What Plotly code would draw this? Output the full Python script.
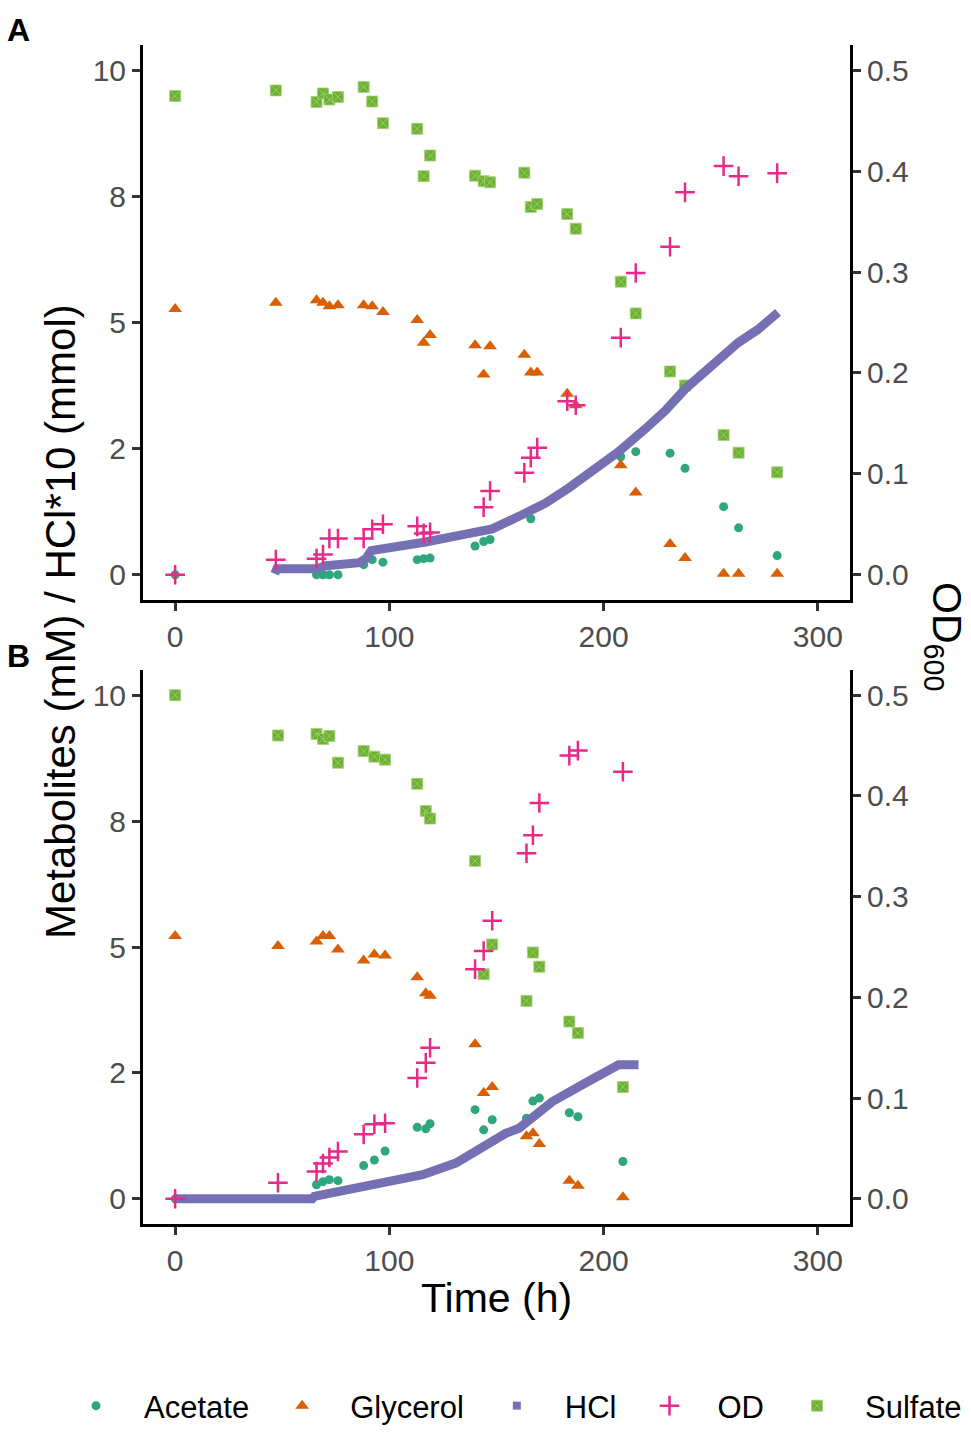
import plotly.graph_objects as go

# ---- panel A ----
time_a = [0, 47, 66, 69, 72, 76, 88, 92, 97, 113, 116, 119, 140, 144, 147,
          163, 166, 169, 183, 187, 208, 215, 231, 238, 256, 263, 281]
sulfate_a = [9.49, 9.60, 9.37, 9.54, 9.42, 9.47, 9.67, 9.38, 8.95, 8.84, 7.90, 8.31, 7.91, 7.80, 7.78,
             7.97, 7.29, 7.35, 7.15, 6.86, 5.81, 5.18, 4.03, 3.75, 2.77, 2.42, 2.03]
glycerol_a = [5.27, 5.39, 5.44, 5.39, 5.32, 5.34, 5.34, 5.32, 5.21, 5.05, 4.60, 4.75, 4.55, 3.97, 4.53,
              4.36, 4.01, 4.01, 3.59, 3.36, 2.17, 1.63, 0.61, 0.33, 0.02, 0.02, 0.02]
acetate_a_time = [0, 66, 69, 72, 76, 88, 92, 97, 113, 116, 119, 140, 144, 147,
                  166, 208, 215, 231, 238, 256, 263, 281]
acetate_a = [0, 0, 0, 0, 0, 0.20, 0.30, 0.25, 0.30, 0.32, 0.33, 0.57, 0.66, 0.70,
             1.11, 2.34, 2.44, 2.41, 2.11, 1.35, 0.93, 0.38]
od_a_time = [0, 47, 66, 69, 72, 76, 88, 92, 97, 113, 116, 119, 144, 147,
             163, 166, 169, 183, 187, 208, 215, 231, 238, 256, 263, 281]
od_a = [0, 0.015, 0.016, 0.020, 0.036, 0.036, 0.036, 0.045, 0.050, 0.048, 0.041, 0.042, 0.067, 0.083,
        0.101, 0.116, 0.126, 0.172, 0.168, 0.235, 0.299, 0.325, 0.379, 0.405, 0.395, 0.398]
hcl_a_time = [46.5, 47.5, 66, 70.5, 86, 89, 91.5, 104.7, 117, 132.6, 141.9, 148, 162, 172.9,
              183.7, 196.1, 207, 219.4, 228.7, 238, 250.4, 262.8, 272, 281.4]
hcl_a = [0.02, 0.12, 0.12, 0.18, 0.24, 0.32, 0.48, 0.55, 0.65, 0.78, 0.86, 0.91, 1.19, 1.42,
         1.72, 2.10, 2.44, 2.89, 3.25, 3.68, 4.14, 4.60, 4.86, 5.20]

# ---- panel B ----
time_b = [0, 48, 66, 69, 72, 76, 88, 93, 98, 113, 117, 119, 140, 144, 148, 164, 167, 170, 184, 188, 209]
sulfate_b = [10.0, 9.20, 9.23, 9.13, 9.19, 8.66, 8.89, 8.78, 8.72, 8.24, 7.70, 7.55, 6.71, 4.46, 5.05,
             3.93, 4.89, 4.61, 3.52, 3.29, 2.22]
glycerol_b = [5.22, 5.02, 5.11, 5.22, 5.22, 4.95, 4.73, 4.85, 4.83, 4.40, 4.08, 4.03, 3.07, 2.10, 2.22,
              1.24, 1.30, 1.09, 0.36, 0.26, 0.03]
acetate_b_time = [0, 66, 69, 72, 76, 88, 93, 98, 113, 117, 119, 140, 144, 148, 164, 167, 170, 184, 188, 209]
acetate_b = [0, 0.28, 0.34, 0.38, 0.36, 0.66, 0.77, 0.95, 1.42, 1.39, 1.49, 1.77, 1.37, 1.57,
             1.60, 1.94, 2.00, 1.71, 1.63, 0.74]
od_b = [0, 0.016, 0.027, 0.035, 0.041, 0.047, 0.064, 0.074, 0.075, 0.120, 0.135, 0.150, 0.228, 0.246,
        0.276, 0.343, 0.361, 0.393, 0.440, 0.445, 0.424]
hcl_b_time = [0, 64, 65, 76.7, 92.2, 107.8, 115.5, 131, 138.8, 145, 150.4, 154.3, 160.5,
              168.2, 176, 191.5, 207, 216.3]
hcl_b = [0, 0, 0.05, 0.15, 0.24, 0.38, 0.48, 0.71, 0.91, 1.10, 1.24, 1.30, 1.40,
         1.67, 1.93, 2.30, 2.66, 2.66]

# axis ticks (ggplot rounded the 2.5 / 7.5 labels)
left_tickvals = [0, 2.5, 5, 7.5, 10]
left_ticktext = ["0", "2", "5", "8", "10"]
od_tickvals = [0, 0.1, 0.2, 0.3, 0.4, 0.5]
time_tickvals = [0, 100, 200, 300]

colors = {"Acetate": "#1B9E77", "Glycerol": "#D95F02", "HCl": "#7570B3",
          "OD": "#E7298A", "Sulfate": "#66A61E"}
FONT = "Liberation Sans, Arial, sans-serif"

fig = go.Figure()


def add_panel(xa, ya, ya2, t_all, ac_t, ac, gl, su, hcl_t, hcl, od_t, od, legend):
    fig.add_trace(go.Scatter(x=ac_t, y=ac, mode="markers", name="Acetate", legendrank=1,
                             marker=dict(symbol="circle", size=9, color="#2FA67E"),
                             xaxis=xa, yaxis=ya, showlegend=legend))
    fig.add_trace(go.Scatter(x=t_all, y=gl, mode="markers", name="Glycerol", legendrank=2,
                             marker=dict(symbol="triangle-up", size=12, color=colors["Glycerol"]),
                             xaxis=xa, yaxis=ya, showlegend=legend))
    fig.add_trace(go.Scatter(x=t_all, y=su, mode="markers", name="Sulfate", legendrank=5,
                             marker=dict(symbol="square-x", size=11, color="#6DB032",
                                         line=dict(color="#A6D27A", width=0.8)),
                             xaxis=xa, yaxis=ya, showlegend=legend))
    fig.add_trace(go.Scatter(x=hcl_t, y=hcl, mode="lines", name="HCl",
                             line=dict(color=colors["HCl"], width=9),
                             xaxis=xa, yaxis=ya, showlegend=False))
    fig.add_trace(go.Scatter(x=od_t, y=od, mode="markers", name="OD", legendrank=4,
                             marker=dict(symbol="cross-thin", size=14, color=colors["OD"],
                                         line=dict(color=colors["OD"], width=2.5)),
                             xaxis=xa, yaxis=ya2, showlegend=legend))


add_panel("x", "y", "y2", time_a, acetate_a_time, acetate_a, glycerol_a, sulfate_a,
          hcl_a_time, hcl_a, od_a_time, od_a, True)
add_panel("x2", "y3", "y4", time_b, acetate_b_time, acetate_b, glycerol_b, sulfate_b,
          hcl_b_time, hcl_b, time_b, od_b, False)

# legend entry for HCl (drawn as a line of squares in the panels)
fig.add_trace(go.Scatter(x=[None], y=[None], mode="markers", name="HCl", legendrank=3,
                         marker=dict(symbol="square", size=8, color=colors["HCl"])))

W, H = 971, 1433
xdom = [143 / W, 850 / W]
dom_a = [1 - 600 / H, 1 - 45 / H]
dom_b = [1 - 1224 / H, 1 - 670 / H]

axis_common = dict(showline=True, linecolor="black", linewidth=3, ticks="outside",
                   ticklen=8, tickwidth=3, tickcolor="#333333", showgrid=False, zeroline=False,
                   tickfont=dict(family=FONT, size=30, color="#4D4D4D"))

x_common = dict(axis_common, range=[-15, 315], tickvals=time_tickvals, domain=xdom)
yl_common = dict(axis_common, range=[-0.5, 10.5], tickvals=left_tickvals, ticktext=left_ticktext)
yr_common = dict(axis_common, range=[-0.025, 0.525], tickvals=od_tickvals, tickformat=".1f",
                 side="right")

fig.update_layout(
    width=W, height=H,
    margin=dict(l=0, r=0, t=0, b=0),
    paper_bgcolor="white", plot_bgcolor="white",
    font=dict(family=FONT, color="black"),
    xaxis=dict(x_common, anchor="y"),
    yaxis=dict(yl_common, domain=dom_a, anchor="x"),
    yaxis2=dict(yr_common, overlaying="y", anchor="x"),
    xaxis2=dict(x_common, anchor="y3"),
    yaxis3=dict(yl_common, domain=dom_b, anchor="x2"),
    yaxis4=dict(yr_common, overlaying="y3", anchor="x2"),
    legend=dict(orientation="h", x=48 / W, xanchor="left", y=0, yanchor="bottom",
                font=dict(family=FONT, size=31, color="black"), itemwidth=86,
                traceorder="normal"),
    showlegend=True,
)

annotations = [
    dict(text="Time (h)", x=496.5 / W, y=1 - 1298 / H, font=dict(size=41)),
    dict(text="Metabolites (mM) / HCl*10 (mmol)", x=60 / W, y=1 - 622 / H,
         textangle=-90, font=dict(size=42)),
    dict(text="OD<sub>600</sub>", x=944 / W, y=1 - 636 / H, textangle=90, font=dict(size=41)),
    dict(text="<b>A</b>", x=18 / W, y=1 - 30 / H, font=dict(size=32)),
    dict(text="<b>B</b>", x=18 / W, y=1 - 656 / H, font=dict(size=32)),
]
for a in annotations:
    fig.add_annotation(xref="paper", yref="paper", showarrow=False,
                       xanchor="center", yanchor="middle", **a)

fig.write_html("out.html", config={"displayModeBar": False},
               post_script="document.body.style.margin='0';")
